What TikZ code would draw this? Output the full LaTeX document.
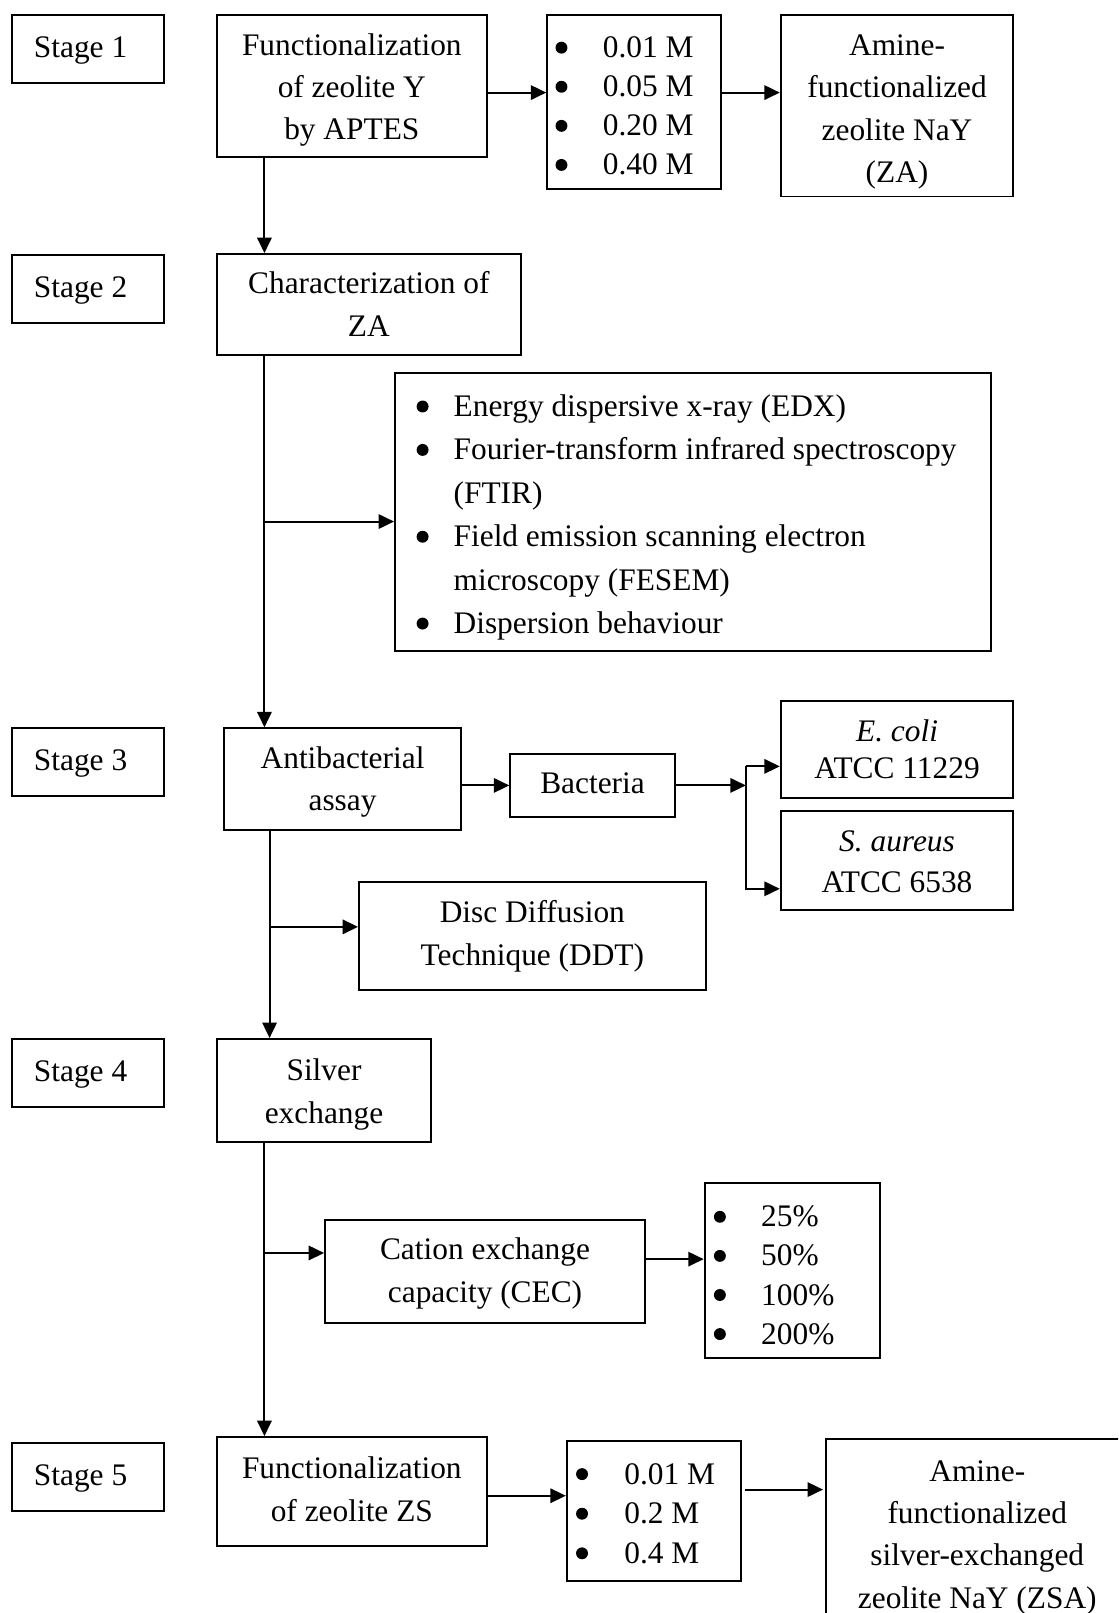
\documentclass[tikz,border=0pt]{standalone}
\usepackage{fontspec}
\setmainfont{Liberation Serif}
\usetikzlibrary{arrows.meta}
\newcommand\mydot{\tikz[baseline=0pt]\fill (0.19em,0.32em) circle[radius=0.19em];}
\newcommand\myitem[2]{\makebox[#1][l]{\mydot}\mbox{#2}}
\begin{document}
\begin{tikzpicture}[x=1pt,y=1pt,
  box/.style={draw, line width=1.9pt, rectangle, inner sep=0pt, align=center,
    font=\fontsize{30.5}{41}\selectfont,
    execute at begin node=\strut, execute at end node=\strut},
  cbox/.style={box, align=flush center, inner xsep=10pt, text width=#1-20pt, minimum width=#1},
  tsh/.style={execute at begin node={\rule{0pt}{#1}}},
  stagebox/.style={box, minimum height=66, text width=105, inner xsep=21, align=flush left},
  listbox/.style={box, align=flush left},
  arr/.style={line width=1.9pt, -{Triangle[length=15pt,width=14pt]}}
]
\useasboundingbox (0,0) rectangle (1087,-1568);
\fill[white] (0,0) rectangle (1087,-1568);
\clip (0,0) rectangle (1087,-1568);

% stage labels
\node[stagebox] (s1) at (85.5,-48) {Stage 1};
\node[stagebox] (s2) at (85.5,-281) {Stage 2};
\node[stagebox] (s3) at (85.5,-741) {Stage 3};
\node[stagebox] (s4) at (85.5,-1043) {Stage 4};
\node[stagebox] (s5) at (85.5,-1436) {Stage 5};

% stage 1
\node[cbox=262pt, tsh=34.1pt, minimum height=138] (fy) at (342,-84) {Functionalization\\of zeolite Y\\by APTES};
\node[listbox, tsh=38.6pt, inner xsep=8, text width=153, minimum height=169, font=\fontsize{30.5}{38}\selectfont] (bl1) at (616.5,-99.5)
  {\myitem{46pt}{0.01 M}\\\myitem{46pt}{0.05 M}\\\myitem{46pt}{0.20 M}\\\myitem{46pt}{0.40 M}};
\node[cbox=226pt, tsh=37.7pt, minimum height=176] (am) at (872,-103) {Amine-\\functionalized\\zeolite NaY\\(ZA)};

% stage 2
\node[cbox=295pt, tsh=32.7pt, minimum height=98] (ch) at (358.5,-296) {Characterization of\\ZA};
\node[listbox, tsh=37.5pt, inner xsep=21, text width=537, minimum height=270, font=\fontsize{30.5}{42.2}\selectfont] (edx) at (673.5,-498)
  {\myitem{36pt}{Energy dispersive x-ray (EDX)}\\
   \myitem{36pt}{Fourier-transform infrared spectroscopy}\\
   \hspace*{36pt}\mbox{(FTIR)}\\
   \myitem{36pt}{Field emission scanning electron}\\
   \hspace*{36pt}\mbox{microscopy (FESEM)}\\
   \myitem{36pt}{Dispersion behaviour}};

% stage 3
\node[cbox=230pt, tsh=32.7pt, minimum height=99] (ab) at (333,-757.5) {Antibacterial\\assay};
\node[box, minimum width=160, minimum height=61] (bac) at (576,-763.5) {Bacteria};
\node[cbox=226pt, tsh=31.2pt, minimum height=95, font=\fontsize{30.5}{36}\selectfont] (eco) at (872,-728.5) {\textit{E. coli}\\ATCC 11229};
\node[cbox=226pt, tsh=34pt, minimum height=97, font=\fontsize{30.5}{40}\selectfont] (sau) at (872,-836.5) {\textit{S. aureus}\\ATCC 6538};
\node[cbox=337pt, tsh=28.7pt, minimum height=105] (ddt) at (517.5,-909.5) {Disc Diffusion\\Technique (DDT)};

% stage 4
\node[cbox=208pt, tsh=34.7pt, minimum height=100] (sil) at (315,-1060) {Silver\\exchange};
\node[cbox=311pt, tsh=30.7pt, minimum height=100] (cec) at (471.5,-1236) {Cation exchange\\capacity (CEC)};
\node[listbox, tsh=40.6pt, inner xsep=9, text width=152, minimum height=170, font=\fontsize{30.5}{38}\selectfont] (bl3) at (770,-1235)
  {\myitem{46pt}{25\%}\\\myitem{46pt}{50\%}\\\myitem{46pt}{100\%}\\\myitem{46pt}{200\%}};

% stage 5
\node[cbox=262pt, tsh=26.7pt, minimum height=106] (fzs) at (342,-1450) {Functionalization\\of zeolite ZS};
\node[listbox, tsh=36pt, inner xsep=9, text width=151, minimum height=136, font=\fontsize{30.5}{38.5}\selectfont] (bl4) at (635.5,-1469)
  {\myitem{47pt}{0.01 M}\\\myitem{47pt}{0.2 M}\\\myitem{47pt}{0.4 M}};
\node[cbox=294pt, tsh=39.7pt, minimum height=178] (zsa) at (950,-1488) {Amine-\\functionalized\\silver-exchanged\\zeolite NaY (ZSA)};

% connectors
\draw[arr] ([yshift=-6]fy.east) -- ([yshift=-6]fy.east -| bl1.west);
\draw[arr] ([yshift=9.5]bl1.east) -- ([yshift=9.5]bl1.east -| am.west);
\draw[arr] ([xshift=47]fy.south west) -- ([xshift=47]fy.south west |- ch.north);
\draw[arr] ([xshift=47]ch.south west) -- ([xshift=47]ch.south west |- ab.north);
\coordinate (j2) at (258,-507);
\draw[arr] (j2) -- (j2 -| edx.west);

\draw[arr] (bac.west -| ab.east) -- (bac.west);
\coordinate (sp) at (725,-763.5);
\draw[arr] (bac.east) -- (sp);
\coordinate (sa) at (725,-745);
\coordinate (sb) at (725,-864);
\draw[arr] (sa) -- (sb) -- (sb -| sau.west);
\draw[arr] (sa) -- (sa -| eco.west);

\draw[arr] ([xshift=45]ab.south west) -- ([xshift=45]ab.south west |- sil.north);
\coordinate (j3) at (263,-901);
\draw[arr] (j3) -- (j3 -| ddt.west);

\draw[arr] ([xshift=47]sil.south west) -- ([xshift=47]sil.south west |- fzs.north);
\coordinate (j4) at (258,-1218);
\draw[arr] (j4) -- (j4 -| cec.west);
\draw[arr] ([yshift=12]cec.east) -- ([yshift=12]cec.east -| bl3.west);

\draw[arr] ([yshift=-4]fzs.east) -- ([yshift=-4]fzs.east -| bl4.west);
\draw[arr, shorten <=3pt, shorten >=2pt] ([yshift=21]bl4.east) -- ([yshift=21]bl4.east -| zsa.west);
\end{tikzpicture}
\end{document}
